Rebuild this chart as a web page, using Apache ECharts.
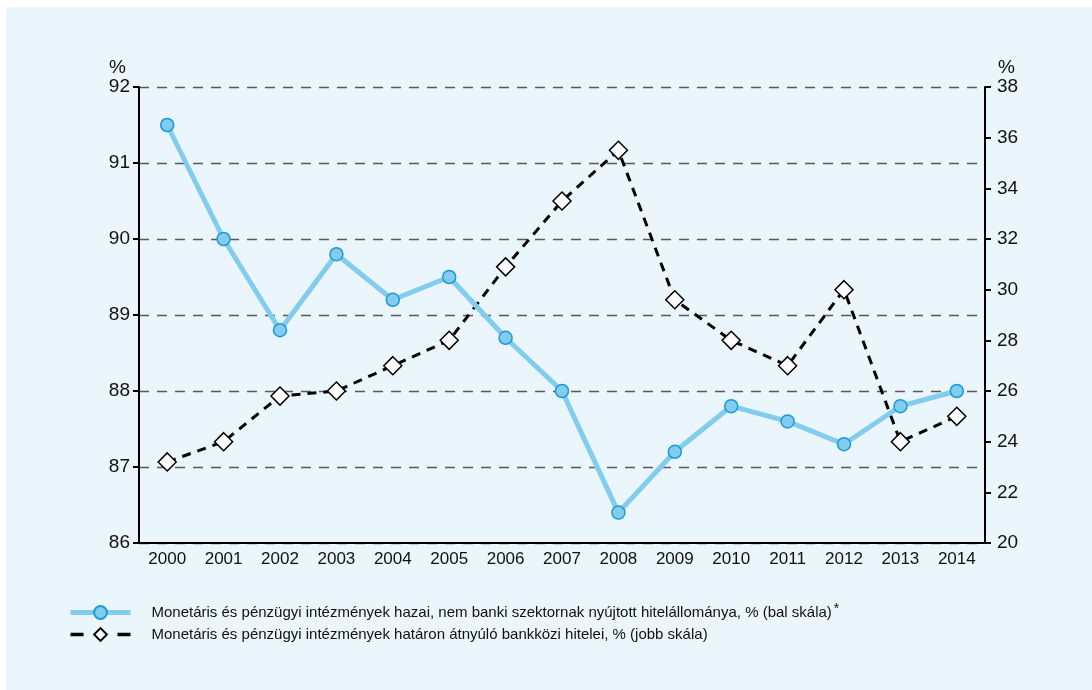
<!DOCTYPE html>
<html>
<head>
<meta charset="utf-8">
<script src="https://cdn.jsdelivr.net/npm/echarts@6/dist/echarts.min.js"></script>
<style>
  html, body { margin: 0; padding: 0; background: #ffffff; }
  #wrap { position: absolute; left: 6px; top: 7px; right: 0; bottom: 0; background: #eaf5fc; }
  #chart { position: absolute; left: 0; top: 0; width: 1092px; height: 690px; }
</style>
</head>
<body>
<div id="wrap"></div>
<div id="chart"></div>
<script>
const years = ['2000', '2001', '2002', '2003', '2004', '2005', '2006', '2007',
  '2008', '2009', '2010', '2011', '2012', '2013', '2014'];

// bal skála
const domesticCredit = [91.5, 90.0, 88.8, 89.8, 89.2, 89.5, 88.7, 88.0,
  86.4, 87.2, 87.8, 87.6, 87.3, 87.8, 88.0];

// jobb skála
const crossBorder = [23.2, 24.0, 25.8, 26.0, 27.0, 28.0, 30.9, 33.5,
  35.5, 29.6, 28.0, 27.0, 30.0, 24.0, 25.0];

const nameBlue = 'Monetáris és pénzügyi intézmények hazai, nem banki szektornak nyújtott hitelállománya, % (bal skála)';
const nameBlack = 'Monetáris és pénzügyi intézmények határon átnyúló bankközi hitelei, % (jobb skála)';

const font = 'Liberation Sans';
const chart = echarts.init(document.getElementById('chart'));

chart.setOption({
  animation: false,
  backgroundColor: 'transparent',
  textStyle: { fontFamily: font },
  grid: { left: 139, right: 107, top: 87, bottom: 147 },
  legend: {
    orient: 'vertical',
    left: 68,
    top: 602,
    padding: 0,
    itemWidth: 60,
    itemHeight: 16,
    itemGap: 7,
    textStyle: {
      fontFamily: font, fontSize: 15, color: '#111', padding: [0, 0, 0, 16],
      rich: { sup: { fontSize: 14, verticalAlign: 'top', padding: [0, 0, 7, 2], color: '#111' } }
    },
    formatter: (n) => n === nameBlue ? n + '{sup|*}' : n,
    data: [
      { name: nameBlue, lineStyle: { width: 5 } },
      { name: nameBlack, lineStyle: { width: 3.5, type: [13, 34] } }
    ]
  },
  xAxis: {
    type: 'category',
    data: years,
    axisLine: { lineStyle: { color: '#000', width: 2 } },
    axisTick: { length: 6, lineStyle: { color: '#000', width: 2 } },
    axisLabel: { color: '#111', fontSize: 17, margin: 8, fontFamily: font }
  },
  yAxis: [
    {
      type: 'value',
      min: 86, max: 92, interval: 1,
      name: '%',
      nameGap: 10,
      nameTextStyle: { color: '#111', fontSize: 19, align: 'right', padding: [0, 13, 0, 0], fontFamily: font },
      axisLine: { show: true, lineStyle: { color: '#000', width: 2 } },
      axisTick: { show: true, length: 6, lineStyle: { color: '#000', width: 2 } },
      axisLabel: { color: '#111', fontSize: 19, margin: 9, fontFamily: font },
      splitLine: { show: true, lineStyle: { color: '#5a5a5a', width: 1.3, type: [10, 8] } }
    },
    {
      type: 'value',
      min: 20, max: 38, interval: 2,
      position: 'right',
      name: '%',
      nameGap: 10,
      nameTextStyle: { color: '#111', fontSize: 19, align: 'left', padding: [0, 0, 0, 13], fontFamily: font },
      axisLine: { show: true, lineStyle: { color: '#000', width: 2 } },
      axisTick: { show: true, length: 6, lineStyle: { color: '#000', width: 2 } },
      axisLabel: { color: '#111', fontSize: 19, margin: 12, fontFamily: font },
      splitLine: { show: false }
    }
  ],
  series: [
    {
      name: nameBlue,
      type: 'line',
      yAxisIndex: 0,
      data: domesticCredit,
      symbol: 'circle',
      symbolSize: 13,
      lineStyle: { color: '#82cdee', width: 5 },
      itemStyle: { color: '#82cdee', borderColor: '#1a9ad8', borderWidth: 1.5 },
      z: 3
    },
    {
      name: nameBlack,
      type: 'line',
      yAxisIndex: 1,
      data: crossBorder,
      symbol: 'diamond',
      symbolSize: 18,
      lineStyle: { color: '#000', width: 3, type: [9, 7] },
      itemStyle: { color: '#fff', borderColor: '#000', borderWidth: 1.5 },
      z: 2
    }
  ]
});
</script>
</body>
</html>
